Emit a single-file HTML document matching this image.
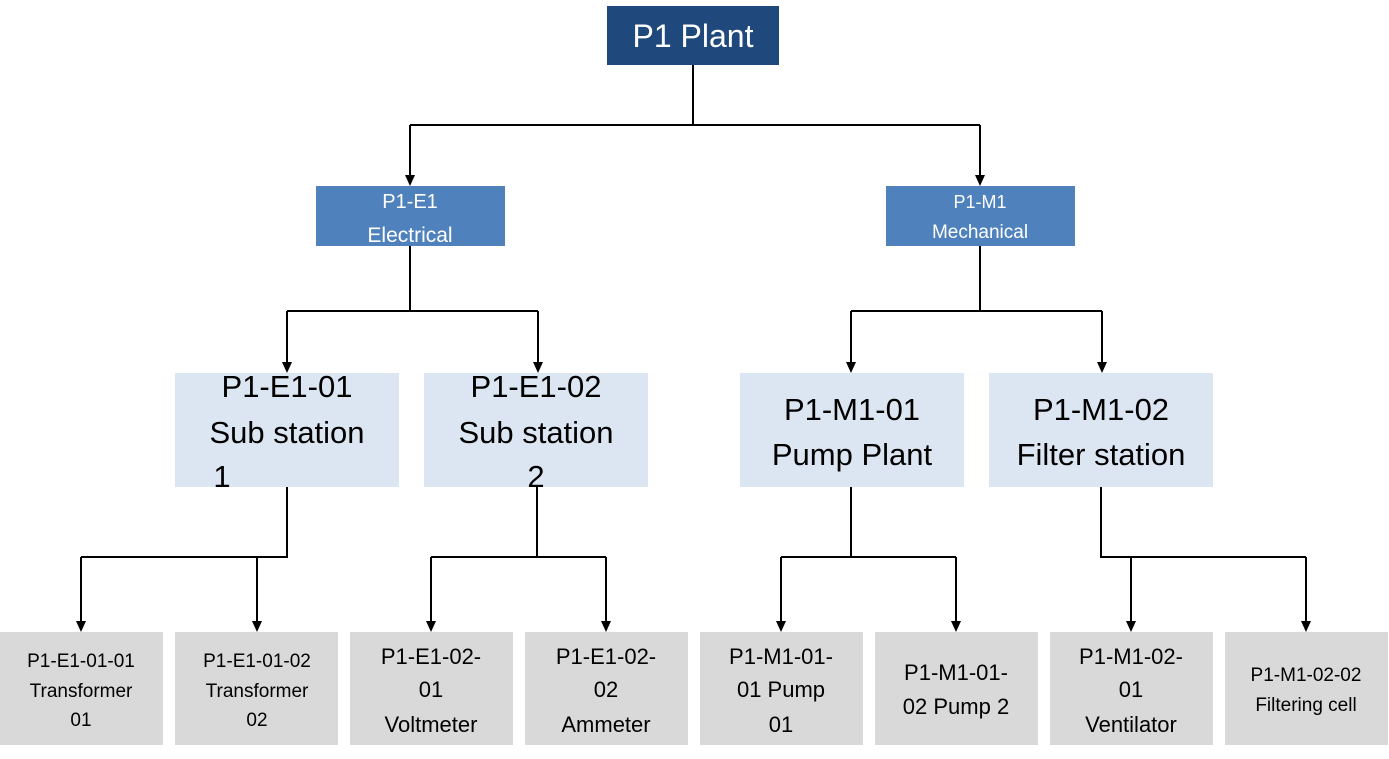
<!DOCTYPE html>
<html><head><meta charset="utf-8"><style>html,body{margin:0;padding:0;background:#fff}svg{display:block}text{font-family:"Liberation Sans",sans-serif;text-anchor:middle}</style></head><body>
<svg width="1389" height="759" viewBox="0 0 1389 759">
<g stroke="#000" stroke-width="2" fill="none">
<path d="M693,65 V125 M410,125 H980"/>
<path d="M410,125 V178 M980,125 V178"/>
<path d="M410,246 V311 M287,311 H538 M980,246 V311 M851,311 H1102"/>
<path d="M287,311 V365 M538,311 V365 M851,311 V365 M1102,311 V365"/>
<path d="M287,487 V557 H81 M537,487 V557 M431,557 H606 M851,487 V557 M781,557 H956 M1101,487 V557 H1306"/>
<path d="M81,557 V624 M257,557 V624 M431,557 V624 M606,557 V624 M781,557 V624 M956,557 V624 M1131,557 V624 M1306,557 V624"/>
</g>
<g fill="#000">
<polygon points="405,175 415,175 410,186"/><polygon points="975,175 985,175 980,186"/>
<polygon points="282,362 292,362 287,373"/><polygon points="533,362 543,362 538,373"/>
<polygon points="846,362 856,362 851,373"/><polygon points="1097,362 1107,362 1102,373"/>
<polygon points="76,621 86,621 81,632"/><polygon points="252,621 262,621 257,632"/>
<polygon points="426,621 436,621 431,632"/><polygon points="601,621 611,621 606,632"/>
<polygon points="776,621 786,621 781,632"/><polygon points="951,621 961,621 956,632"/>
<polygon points="1126,621 1136,621 1131,632"/><polygon points="1301,621 1311,621 1306,632"/>
</g>
<rect x="607" y="6" width="172" height="59" fill="#1f497d"/>
<text x="693" y="47" fill="#fff" font-size="32">P1 Plant</text>
<rect x="316" y="186" width="189" height="60" fill="#4f81bd"/>
<text x="410" y="208" fill="#fff" font-size="20">P1-E1</text><text x="410" y="242" fill="#fff" font-size="21">Electrical</text>
<rect x="886" y="186" width="189" height="60" fill="#4f81bd"/>
<text x="980" y="208" fill="#fff" font-size="18">P1-M1</text><text x="980" y="238" fill="#fff" font-size="19">Mechanical</text>
<g fill="#dce6f2"><rect x="175" y="373" width="224" height="114"/><rect x="424" y="373" width="224" height="114"/><rect x="740" y="373" width="224" height="114"/><rect x="989" y="373" width="224" height="114"/></g>
<g font-size="31" fill="#000">
<text x="287" y="397">P1-E1-01</text><text x="287" y="443">Sub station</text><text x="222" y="487">1</text>
<text x="536" y="397">P1-E1-02</text><text x="536" y="443">Sub station</text><text x="536" y="487">2</text>
<text x="852" y="420">P1-M1-01</text><text x="852" y="465">Pump Plant</text>
<text x="1101" y="420">P1-M1-02</text><text x="1101" y="465">Filter station</text>
</g>
<g fill="#d9d9d9"><rect x="0" y="632" width="163" height="113"/><rect x="175" y="632" width="163" height="113"/><rect x="350" y="632" width="163" height="113"/><rect x="525" y="632" width="163" height="113"/><rect x="700" y="632" width="163" height="113"/><rect x="875" y="632" width="163" height="113"/><rect x="1050" y="632" width="163" height="113"/><rect x="1225" y="632" width="163" height="113"/></g>
<g fill="#000" font-size="19">
<text x="81" y="667">P1-E1-01-01</text><text x="81" y="697">Transformer</text><text x="81" y="726">01</text>
<text x="257" y="667">P1-E1-01-02</text><text x="257" y="697">Transformer</text><text x="257" y="726">02</text>
</g>
<g fill="#000" font-size="22">
<text x="431" y="664">P1-E1-02-</text><text x="431" y="697">01</text><text x="431" y="732">Voltmeter</text>
<text x="606" y="664">P1-E1-02-</text><text x="606" y="697">02</text><text x="606" y="732">Ammeter</text>
<text x="781" y="664">P1-M1-01-</text><text x="781" y="697">01 Pump</text><text x="781" y="732">01</text>
<text x="956" y="680">P1-M1-01-</text><text x="956" y="714">02 Pump 2</text>
<text x="1131" y="664">P1-M1-02-</text><text x="1131" y="697">01</text><text x="1131" y="732">Ventilator</text>
</g>
<g fill="#000" font-size="19"><text x="1306" y="681">P1-M1-02-02</text><text x="1306" y="711">Filtering cell</text></g>
</svg>
</body></html>
